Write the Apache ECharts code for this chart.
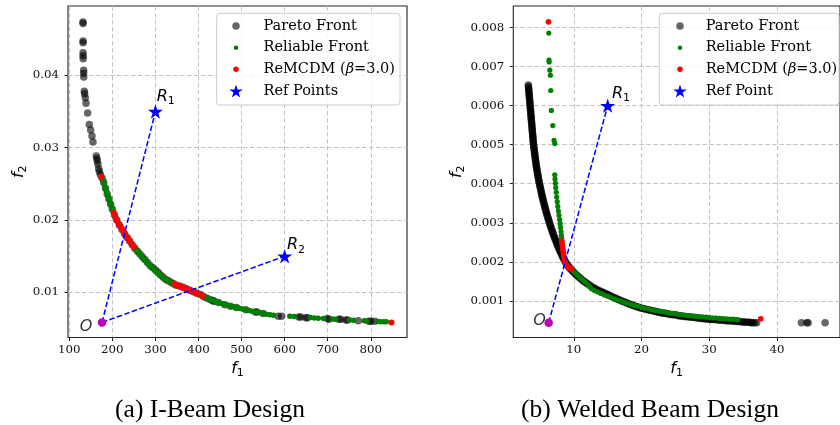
<!DOCTYPE html>
<html><head><meta charset="utf-8">
<script src="https://cdn.jsdelivr.net/npm/echarts@6/dist/echarts.min.js"></script>
<style>html,body{margin:0;padding:0;background:#fff}#c{width:840px;height:425px}</style>
</head><body><div id="c"></div>
<script>
// ---------- (a) I-Beam design: [f1, f2] ----------
const ibeamPareto = [
[131.8,0.04737],[131.9,0.04715],[132.0,0.04474],[132.0,0.04450],[132.0,0.04313],[132.1,0.04270],[132.2,0.04229],
[133.3,0.04070],[133.3,0.04030],[133.5,0.03976],[134.9,0.03780],[135.5,0.03745],[137.2,0.03690],[138.8,0.03613],
[142.6,0.03479],[146.5,0.03322],[149.6,0.03244],[152.7,0.03161],[155.0,0.03078],[162.7,0.02884],[164.0,0.02850],
[165.0,0.02815],[166.5,0.02770],[168.2,0.02709],[170.0,0.02670],[172.0,0.02631],
[176,0.0258],[180,0.0252],[184,0.0244],[188,0.0236],[192,0.0229],[196,0.0222],[200,0.0215],[205,0.0207],[210,0.0200],
[216,0.0193],[222,0.0187],[228,0.0181],[234,0.0176],[240,0.0171],[246,0.0166],[252,0.0161],[258,0.0157],[264,0.0153],
[270,0.0149],[276,0.0145],[282,0.0141],[288,0.0137],[294,0.0134],[300,0.0131],[306,0.0128],[312,0.0124],[318,0.0121],
[324,0.0118],[330,0.0116],[336,0.0114],[342,0.0112],[348,0.0110],[356,0.0109],[364,0.0107],[372,0.0105],[380,0.0103],
[388,0.0101],[396,0.0099],[404,0.0097],[412,0.0094],[420,0.0092],[428,0.0090],[434,0.0088],[436,0.0088],[446,0.0086],
[461,0.0083],[474,0.0081],[488,0.0079],[510,0.0076],[532,0.0073],[536,0.0073],[550,0.0071],[585,0.0067],[593,0.0067],
[633,0.0066],[637,0.0066],[649,0.0065],[653,0.0065],[699,0.0064],[703,0.0063],[726,0.0063],[730,0.0063],[742,0.0062],
[746,0.0062],[771,0.0061],[796,0.0060],[800,0.0060],[809,0.0060]
];
const ibeamReliable = [
[177.5,0.0257],[179,0.0254],[181,0.0250],[183,0.0246],[185,0.0242],[187,0.0238],[189,0.0234],[191,0.0231],[193,0.0227],
[195,0.0224],[197,0.0220],[199,0.0217],[201,0.0213],
[253,0.0161],[257,0.0158],[261,0.0155],[265,0.0152],[269,0.0149],[273,0.0146],[277,0.0144],[281,0.0141],[285,0.0139],
[289,0.0136],[293,0.0134],[297,0.0132],[301,0.0129],[305,0.0127],[309,0.0125],[313,0.0123],[317,0.0121],[321,0.0119],
[325,0.0118],[329,0.0116],[333,0.0115],[337,0.0113],[341,0.0112],
[415,0.00935],[420,0.00922],[425,0.00908],[430,0.00895],[436,0.00880],[442,0.00870],[448,0.00860],[454,0.00848],
[460,0.00836],[466,0.00826],[472,0.00816],[478,0.00806],[484,0.00797],[490,0.00788],[496,0.00779],[502,0.00771],
[508,0.00762],[514,0.00753],[520,0.00745],[527,0.00737],[535,0.00728],[543,0.00718],[550,0.00710],[558,0.00700],
[566,0.00692],[574,0.00684],[612,0.00670],[622,0.00666],[660,0.00652],[669,0.00648],[678,0.00644],[690,0.00640],
[712,0.00632],[718,0.00630],[751,0.00618],[760,0.00616],[785,0.00608],[790,0.00606],[815,0.00598],[822,0.00596],
[830,0.00594],[836,0.00593]
];
const ibeamReMCDM = [
[174.5,0.02598],
[203,0.0210],[207,0.0204],[211,0.0199],[215,0.0195],[219,0.0191],[223,0.0187],[227,0.0183],[231,0.0179],[236,0.0175],
[240,0.0171],[245,0.0167],[250,0.0163],
[345,0.01115],[350,0.01100],[355,0.01088],[360,0.01076],[365,0.01065],[370,0.01055],[375,0.01044],[380,0.01032],
[385,0.01019],[390,0.01005],[395,0.00991],[400,0.00978],[405,0.00964],[410,0.00950],
[848,0.00585]
];
const ibeamRefPoints = [[300,0.035],[600,0.015]];
const ibeamOrigin = [[176,0.00585]];
const ibeamXTicks = [100,200,300,400,500,600,700,800];
const ibeamYTicks = [0.01,0.02,0.03,0.04];

// ---------- (b) Welded beam design: [f1, f2] ----------
const weldPareto = [
[3.28,0.00653],[3.32,0.00645],[3.36,0.00637],[3.40,0.00629],[3.44,0.00621],[3.48,0.00613],[3.52,0.00605],[3.56,0.00597],
[3.60,0.00589],[3.64,0.00581],[3.68,0.00573],[3.72,0.00565],[3.76,0.00557],[3.80,0.00549],[3.84,0.00541],[3.88,0.00533],
[3.92,0.00525],[3.96,0.00517],[4.00,0.00509],[4.05,0.00501],[4.10,0.00493],[4.16,0.00485],[4.22,0.00477],[4.28,0.00469],
[4.34,0.00461],[4.40,0.00453],[4.47,0.00445],[4.54,0.00437],[4.62,0.00429],[4.70,0.00421],[4.78,0.00413],[4.87,0.00405],
[4.96,0.00397],[5.06,0.00389],[5.16,0.00381],[5.26,0.00373],[5.37,0.00365],[5.48,0.00357],[5.60,0.00349],[5.72,0.00341],
[5.84,0.00333],[5.97,0.00325],[6.10,0.00317],[6.24,0.00309],[6.38,0.00301],[6.53,0.00293],[6.68,0.00285],[6.84,0.00277],
[7.00,0.00269],[7.17,0.00261],[7.35,0.00253],[7.53,0.00245],[7.72,0.00237],[7.92,0.00229],[8.13,0.00221],[8.35,0.00213],
[8.58,0.00205],[8.82,0.00198],[9.08,0.00191],[9.35,0.00185],[9.65,0.00179],[10.0,0.00173],[10.4,0.00166],[10.8,0.00160],
[11.2,0.00154],[11.6,0.00149],[12.0,0.00144],[12.5,0.00138],[13.0,0.00133],[13.5,0.00128],[14.0,0.00124],[14.5,0.00120],
[15.0,0.00116],[15.5,0.00112],[16.0,0.00108],[16.5,0.00104],[17.0,0.00100],[17.5,0.00097],[18.0,0.00093],[18.5,0.00090],
[19.0,0.00087],[19.5,0.00084],[20.0,0.00081],[20.5,0.00079],[21.0,0.00077],[21.5,0.00075],[22.0,0.00073],[22.5,0.00071],
[23.0,0.00069],[23.5,0.00068],[24.0,0.00066],[24.5,0.00065],[25.0,0.00064],[25.5,0.00062],[26.0,0.00061],[26.5,0.00060],
[27.0,0.00059],[27.5,0.00058],[28.0,0.00057],[28.5,0.00056],[29.0,0.00055],[29.5,0.00054],[30.0,0.00053],[30.5,0.00052],
[31.0,0.00052],[31.5,0.00051],[32.0,0.00050],[32.5,0.00049],[33.0,0.00049],[33.5,0.00048],[34.0,0.00047],[34.5,0.00047],
[35.0,0.00046],[35.5,0.00045],[36.0,0.00045],[36.4,0.00044],[37.0,0.00044],[43.6,0.00044],[44.4,0.00044],[44.6,0.00044],
[47.1,0.00044],
[3.30,0.00649],[3.34,0.00641],[3.38,0.00633],[3.42,0.00625],[3.46,0.00617],[3.50,0.00609],[3.54,0.00601],[3.58,0.00593],
[3.62,0.00585],[3.66,0.00577],[3.70,0.00569],[3.74,0.00561],[3.78,0.00553],[3.82,0.00545],[3.86,0.00537],[3.90,0.00529],
[3.94,0.00521],[3.98,0.00513],[4.02,0.00505],[4.07,0.00497],[4.13,0.00489],[4.19,0.00481],[4.25,0.00473],[4.31,0.00465],
[4.37,0.00457],[4.43,0.00449],[4.50,0.00441],[4.58,0.00433],[4.66,0.00425],[4.74,0.00417],[4.82,0.00409],[4.91,0.00401],
[5.01,0.00393],[5.11,0.00385],[5.21,0.00377],[5.31,0.00369],[5.42,0.00361],[5.54,0.00353],[5.66,0.00345],[5.78,0.00337],
[5.90,0.00329],[6.03,0.00321],[6.17,0.00313],[6.31,0.00305],[6.45,0.00297],[6.60,0.00289],[6.76,0.00281],[6.92,0.00273],
[7.08,0.00265],[7.26,0.00257],[7.44,0.00249],[7.62,0.00241],[7.82,0.00233],[8.02,0.00225],[8.24,0.00217],[8.46,0.00209],
[8.70,0.00201],[8.95,0.00194],[9.21,0.00188],[9.50,0.00182],[9.82,0.00176],[10.2,0.00169],[10.6,0.00163],[11.0,0.00157],
[11.4,0.00151],[11.8,0.00146],[12.25,0.00141],[12.75,0.00135],[13.25,0.00130],[13.75,0.00126],[14.25,0.00122],[14.75,0.00118],
[15.25,0.00114],[15.75,0.00110],[16.25,0.00106],[16.75,0.00102],[17.25,0.00098],[17.75,0.00095],[18.25,0.00091],[18.75,0.00088],
[19.25,0.00085],[19.75,0.00082],[20.25,0.00080],[20.75,0.00078],[21.25,0.00076],[21.75,0.00074],[22.25,0.00072],[22.75,0.00070],
[23.25,0.00068],[23.75,0.00067],[24.25,0.00065],[24.75,0.00064],[25.25,0.00063],[25.75,0.00061],[26.25,0.00060],[26.75,0.00059],
[27.25,0.00058],[27.75,0.00057],[28.25,0.00056],[28.75,0.00055],[29.25,0.00054],[29.75,0.00053],[30.25,0.00052],[30.75,0.00052],
[31.25,0.00051],[31.75,0.00050],[32.25,0.00050],[32.75,0.00049],[33.25,0.00048],[33.75,0.00048],[34.25,0.00047],[34.75,0.00046],
[35.25,0.00046],[35.75,0.00045],[36.2,0.00044],[36.7,0.00044]
];
const weldReliable = [
[6.30,0.00786],[6.33,0.00717],[6.35,0.00712],[6.45,0.00691],[6.54,0.00678],[6.59,0.00639],[6.68,0.00588],[6.89,0.00549],
[7.08,0.00511],[7.18,0.00503],
[7.18,0.00423],[7.22,0.00412],[7.27,0.00401],[7.33,0.00390],[7.40,0.00378],[7.47,0.00366],[7.55,0.00354],[7.63,0.00342],
[7.72,0.00330],[7.81,0.00319],[7.90,0.00308],[7.98,0.00297],[8.05,0.00287],[8.11,0.00277],[8.16,0.00268],[8.20,0.00260],
[9.80,0.00178],[10.15,0.00172],[10.5,0.00166],[10.85,0.00160],[11.2,0.00155],[11.6,0.00149],[12.0,0.00143],[12.3,0.00137],
[12.6,0.00131],[13.0,0.00127],[13.5,0.00123],[14.0,0.00119],[14.5,0.00115],[15.0,0.00112],[15.5,0.00108],[16.0,0.00105],
[16.5,0.00102],[17.0,0.00099],[17.5,0.00096],[18.0,0.00093],[18.5,0.00090],[19.0,0.00088],[19.5,0.00086],[20.0,0.00083],
[20.5,0.00081],[21.0,0.00079],[21.5,0.00077],[22.0,0.00075],[22.5,0.00074],[23.0,0.00072],[23.5,0.00071],[24.0,0.00069],
[24.5,0.00068],[25.0,0.00067],[25.5,0.00065],[26.0,0.00064],[26.5,0.00063],[27.0,0.00062],[27.5,0.00061],[28.0,0.00060],
[28.5,0.00059],[29.0,0.00059],[29.5,0.00058],[30.0,0.00057],[30.5,0.00056],[31.0,0.00056],[31.5,0.00055],[32.0,0.00054],
[32.5,0.00054],[33.0,0.00053],[33.5,0.00053],[34.0,0.00052],[34.2,0.00052]
];
const weldReMCDM = [
[6.25,0.00815],
[8.22,0.00253],[8.27,0.00246],[8.32,0.00239],[8.38,0.00232],[8.44,0.00225],[8.50,0.00218],[8.56,0.00211],[8.63,0.00205],
[8.72,0.00199],[8.83,0.00194],[8.96,0.00190],[9.12,0.00187],[9.28,0.00185],[9.45,0.00183],[9.62,0.00182],
[37.6,0.00054]
];
const weldRefPoints = [[15,0.006]];
const weldOrigin = [[6.28,0.00044]];
const weldXTicks = [10,20,30,40];
const weldYTicks = [0.001,0.002,0.003,0.004,0.005,0.006,0.007,0.008];

// ---------- styling ----------
const STAR = 'path://M0,-100 L22.45,-30.9 L95.11,-30.9 L36.33,11.8 L58.78,80.9 L0,38.2 L-58.78,80.9 L-36.33,11.8 L-95.11,-30.9 L-22.45,-30.9 Z';
const GREY = 'rgba(0,0,0,0.6)', GREEN = '#008000', RED = '#ff0000', BLUE = '#0000ff', MAGENTA = '#bf00bf';
const mathRich = {
  i: {fontFamily: 'DejaVu Sans', fontStyle: 'italic', fontSize: 16, lineHeight: 20, verticalAlign: 'middle', color: '#000'},
  s: {fontFamily: 'DejaVu Sans', fontSize: 11, lineHeight: 11, verticalAlign: 'bottom', color: '#000'}
};
const tickFont = {fontFamily: 'DejaVu Serif', fontSize: 11.8, color: '#111'};
const splitStyle = {show: true, lineStyle: {color: '#c2c2c2', width: 1, type: [4.5, 2.5]}};

function mkX(grid, min, max, split, ticks) {
  return {gridIndex: grid, type: 'value', min, max, splitNumber: split,
    axisLine: {show: false},
    axisTick: {show: true, length: 3.5, lineStyle: {color: '#222'}, customValues: ticks},
    axisLabel: Object.assign({margin: 6.3, customValues: ticks}, tickFont),
    splitLine: splitStyle,
    name: '{i|f}{s|1}', nameLocation: 'middle', nameGap: 20, nameTextStyle: {rich: mathRich}};
}
function mkY(grid, min, max, split, ticks, gap) {
  return {gridIndex: grid, type: 'value', min, max, splitNumber: split,
    axisLine: {show: false},
    axisTick: {show: true, length: 3.5, lineStyle: {color: '#222'}, customValues: ticks},
    axisLabel: Object.assign({margin: 9, customValues: ticks}, tickFont),
    splitLine: splitStyle,
    name: '{i|f}{s|2}', nameLocation: 'middle', nameGap: gap, nameRotate: 90, nameTextStyle: {rich: mathRich}};
}
function scatter(name, idx, data, color, size, z) {
  return {type: 'scatter', name, xAxisIndex: idx, yAxisIndex: idx, data, symbol: 'circle', symbolSize: size,
    itemStyle: {color, borderWidth: 0, opacity: 1}, z, silent: true};
}
function dashLine(idx, o, r) {
  return {type: 'line', xAxisIndex: idx, yAxisIndex: idx, data: [o, r], symbol: 'none', silent: true, z: 5,
    lineStyle: {color: BLUE, width: 1.5, type: [5.5, 2.4], opacity: 1}};
}
const labelRich = {
  r: {fontFamily: 'DejaVu Sans', fontStyle: 'italic', fontSize: 16, lineHeight: 20, verticalAlign: 'middle', color: '#000'},
  s: {fontFamily: 'DejaVu Sans', fontSize: 11, lineHeight: 11, verticalAlign: 'bottom', color: '#000'},
  o: {fontFamily: 'DejaVu Sans', fontStyle: 'italic', fontSize: 16, lineHeight: 20, color: '#000'}
};
function refSeries(name, idx, pts, offsets) {
  return {type: 'scatter', name, xAxisIndex: idx, yAxisIndex: idx, symbol: STAR, symbolSize: [15, 14.3], z: 7, silent: true,
    itemStyle: {color: BLUE, opacity: 1},
    data: pts.map((p, i) => ({value: p, label: {show: true, position: offsets[i], align: 'left', verticalAlign: 'middle',
      formatter: '{r|R}{s|' + (i + 1) + '}', rich: labelRich}}))};
}
// "O" label sits under the magenta dot, as in the reference
function originLabel(idx, pts, offset) {
  return {type: 'scatter', name: 'originLabel', xAxisIndex: idx, yAxisIndex: idx, symbol: 'circle', symbolSize: 8.5, z: 6, silent: true,
    itemStyle: {color: 'rgba(0,0,0,0)'},
    data: pts.map(p => ({value: p, label: {show: true, position: offset, align: 'center', verticalAlign: 'middle',
      formatter: '{o|O}', rich: labelRich}}))};
}
function originDot(idx, pts) {
  return {type: 'scatter', name: 'origin', xAxisIndex: idx, yAxisIndex: idx, symbol: 'circle', symbolSize: 8.5, z: 8, silent: true,
    itemStyle: {color: MAGENTA, opacity: 1}, data: pts};
}
const rows = [26, 47.7, 69.3, 91];
const LEG_FS = 14.5, LEG_LH = 17;
function legendItem(name, icon, color, size, iconX, textX, row) {
  const pad = textX - (iconX + size / 2 + 5);
  return {show: true, left: iconX - size / 2, top: row - Math.max(size, LEG_LH) / 2, padding: 0,
    itemWidth: size, itemHeight: size, z: 10, selectedMode: false,
    data: [{name, icon, itemStyle: {color, borderWidth: 0, opacity: 1}}],
    formatter: n => n.replace('β', '{b|β}'),
    textStyle: {fontFamily: 'DejaVu Serif', fontSize: LEG_FS, lineHeight: LEG_LH, color: '#000', padding: [0, 0, 0, pad],
      rich: {b: {fontFamily: 'DejaVu Serif', fontStyle: 'italic', fontSize: LEG_FS, lineHeight: LEG_LH, color: '#000'}}}};
}
function legendSet(names, iconX, textX) {
  return [
    legendItem(names[0], 'circle', GREY, 7.5, iconX, textX, rows[0]),
    legendItem(names[1], 'circle', GREEN, 4.5, iconX, textX, rows[1]),
    legendItem(names[2], 'circle', RED, 5.5, iconX, textX, rows[2]),
    legendItem(names[3], STAR, BLUE, 13.5, iconX, textX, rows[3])
  ];
}

const chart = echarts.init(document.getElementById('c'), null, {renderer: 'canvas'});
chart.setOption({
  animation: false,
  backgroundColor: '#fff',
  grid: [
    {left: 68, top: 6, width: 339, height: 331.5, show: true, borderColor: '#222', borderWidth: 1.1, backgroundColor: 'transparent'},
    {left: 513.3, top: 6, width: 334.4, height: 331.5, show: true, borderColor: '#222', borderWidth: 1.1, backgroundColor: 'transparent'}
  ],
  xAxis: [mkX(0, 97, 884, 8, ibeamXTicks), mkX(1, 1.06, 49.3, 5, weldXTicks)],
  yAxis: [mkY(0, 0.00377, 0.04958, 5, ibeamYTicks, 35), mkY(1, 0.00006, 0.008555, 8, weldYTicks, 42.5)],
  legend: [].concat(
    legendSet(['Pareto Front', 'Reliable Front', 'ReMCDM (β=3.0)', 'Ref Points'], 236, 263.5),
    legendSet(['Pareto Front', 'Reliable Front', 'ReMCDM (β=3.0)', 'Ref Point'], 680, 705.7)
  ),
  graphic: [
    {type: 'rect', z: 5, silent: true, shape: {x: 216.7, y: 13.3, width: 183.3, height: 91.7, r: 3},
      style: {fill: 'rgba(255,255,255,0.8)', stroke: '#cccccc', lineWidth: 1}},
    {type: 'rect', z: 5, silent: true, shape: {x: 659.3, y: 13.3, width: 179.7, height: 91.7, r: 3},
      style: {fill: 'rgba(255,255,255,0.8)', stroke: '#cccccc', lineWidth: 1}},
    {type: 'text', x: 210, y: 410, silent: true,
      style: {text: '(a) I-Beam Design', fontFamily: 'Liberation Serif', fontSize: 25.5, fill: '#000', align: 'center', verticalAlign: 'middle', textAlign: 'center', textVerticalAlign: 'middle'}},
    {type: 'text', x: 650, y: 410, silent: true,
      style: {text: '(b) Welded Beam Design', fontFamily: 'Liberation Serif', fontSize: 25.5, fill: '#000', align: 'center', verticalAlign: 'middle', textAlign: 'center', textVerticalAlign: 'middle'}}
  ],
  series: [
    scatter('Pareto Front', 0, ibeamPareto, GREY, 7.5, 2),
    scatter('Reliable Front', 0, ibeamReliable, GREEN, 5.5, 3),
    scatter('ReMCDM (β=3.0)', 0, ibeamReMCDM, RED, 6, 4),
    dashLine(0, ibeamOrigin[0], ibeamRefPoints[0]),
    dashLine(0, ibeamOrigin[0], ibeamRefPoints[1]),
    refSeries('Ref Points', 0, ibeamRefPoints, [[8.7, -7.4], [9.8, -3.9]]),
    originLabel(0, ibeamOrigin, [-11.75, 8.25]),
    originDot(0, ibeamOrigin),

    scatter('Pareto Front', 1, weldPareto, GREY, 7.5, 2),
    scatter('Reliable Front', 1, weldReliable, GREEN, 5.2, 3),
    scatter('ReMCDM (β=3.0)', 1, weldReMCDM, RED, 5.7, 4),
    dashLine(1, weldOrigin[0], weldRefPoints[0]),
    refSeries('Ref Point', 1, weldRefPoints, [[11.8, -4.9]]),
    originLabel(1, weldOrigin, [-4.95, 1.95]),
    originDot(1, weldOrigin)
  ]
});
</script>
</body></html>
